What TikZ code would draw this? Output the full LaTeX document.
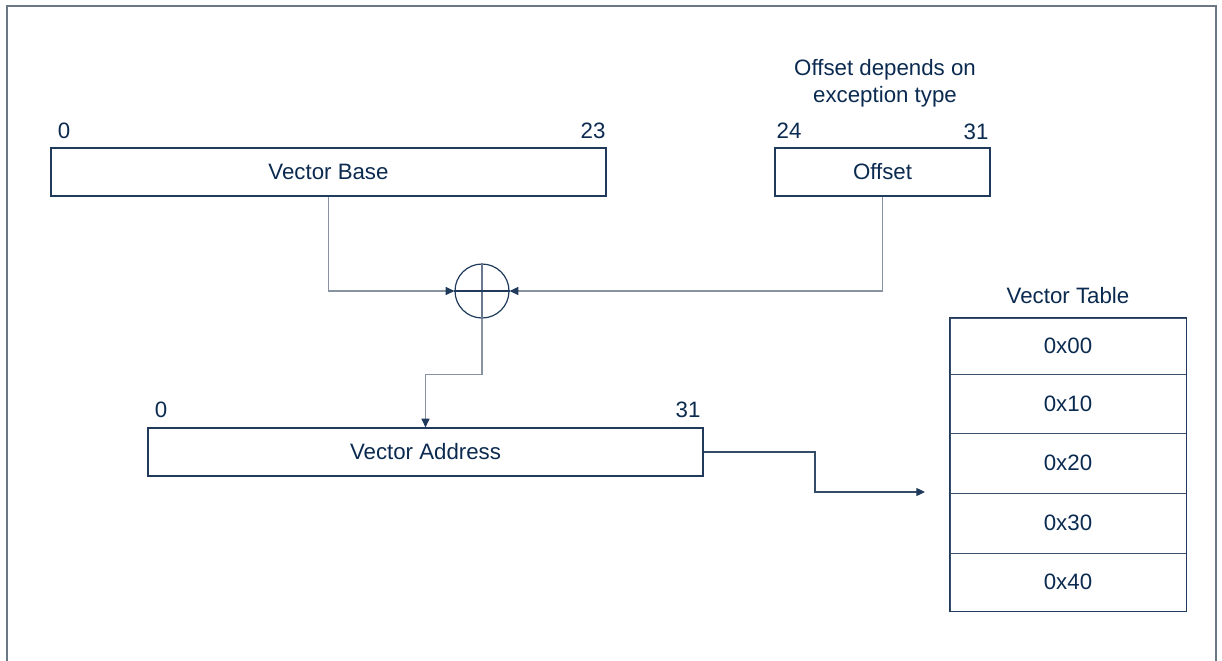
\documentclass[tikz,border=0pt]{standalone}
\usepackage{fontspec}
\setmainfont{Liberation Sans}
\usetikzlibrary{arrows.meta,calc}
\definecolor{txt}{HTML}{0B2A4F}
\definecolor{boxc}{HTML}{1F3A5A}
\definecolor{conn}{HTML}{8893A2}
\definecolor{frame}{HTML}{6B7785}
\begin{document}
\begin{tikzpicture}[x=0.75pt,y=-0.75pt,
  every node/.style={font=\fontsize{16.7pt}{19pt}\selectfont, text=txt},
  regbox/.style={draw=boxc, line width=0.9pt, rectangle, minimum height=36pt, inner sep=0pt},
  rowbox/.style={draw=boxc!75!conn, line width=0.6pt, rectangle, minimum width=177pt, inner sep=0pt},
  lbl/.style={inner sep=0pt},
  wire/.style={draw=conn, line width=0.9pt},
  arr/.style={wire, -{Triangle[length=6.5pt,width=6pt,fill=boxc,color=boxc]}}]
\useasboundingbox (0,0) rectangle (1222,661);
% frame
\draw[frame, line width=1.1pt] (7,661) -- (7,6) -- (1216,6) -- (1216,661);
% registers
\node[regbox, minimum width=416.25pt] (vb) at (328.5,172) {Vector Base};
\node[regbox, minimum width=161.25pt] (off) at (882.5,172) {Offset};
\node[regbox, minimum width=416.25pt] (va) at (425.5,452) {Vector Address};
% bit labels
\node[lbl] (b0) at (64,131) {0};
\node[lbl] (b23) at (593,131) {23};
\node[lbl] (b24) at (789,131) {24};
\node[lbl] (b31) at (976,132) {31};
\node[lbl] (a0) at (161,410) {0};
\node[lbl] (a31) at (688,410) {31};
\node[lbl, align=center, font=\fontsize{16.7pt}{20.5pt}\selectfont] (note) at (885,83) {Offset depends on\\exception type};
% adder
\node[circle, draw=boxc, line width=0.9pt, minimum size=40.5pt, inner sep=0pt] (plus) at (482,291) {};
\draw[conn!70!boxc, line width=1pt] (plus.north) -- (plus.south);
\draw[boxc, line width=1pt] (plus.west) -- (plus.east);
% vector table
\node[lbl] (vtt) at (1068,296) {Vector Table};
\node[rowbox, minimum height=42pt] (r0) at (1068,346) {0x00};
\node[rowbox, minimum height=44.25pt] (r1) at (1068,403.5) {0x10};
\node[rowbox, minimum height=45pt] (r2) at (1068,463) {0x20};
\node[rowbox, minimum height=45pt] (r3) at (1068,523) {0x30};
\node[rowbox, minimum height=43.5pt] (r4) at (1068,582) {0x40};
\draw[boxc, line width=0.9pt] (r0.north west) rectangle (r4.south east);
\coordinate (tgt) at (925,492);
% connectors
\draw[arr] (vb.south) |- (plus.west);
\draw[arr] (off.south) |- (plus.east);
\draw[arr] (plus.south) -- ++(0,56) -| (va.north);
\draw[arr, draw=boxc!80!conn] (va.east) -- (815,452) |- (tgt);
\end{tikzpicture}
\end{document}
